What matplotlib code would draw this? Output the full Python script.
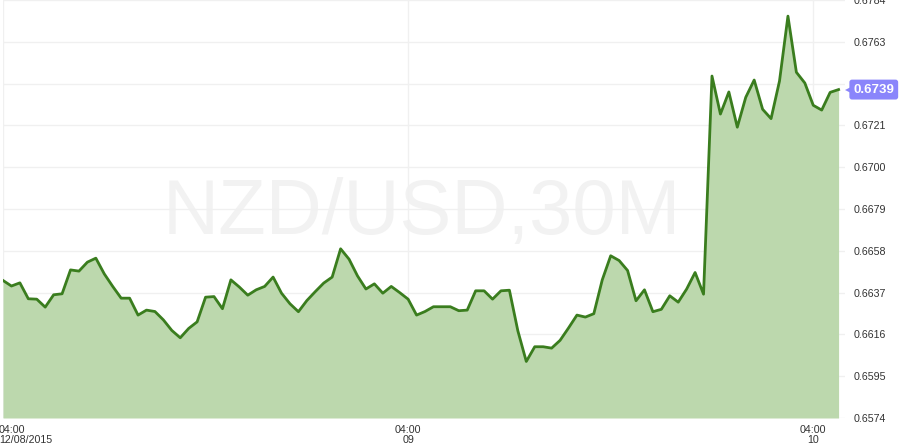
import matplotlib.pyplot as plt
import matplotlib.transforms as mtransforms
import numpy as np

# NZD/USD 30-minute closes, starting 04:00 12/08/2015
prices = [
    0.66431, 0.66403, 0.66419, 0.66339, 0.66337, 0.66297, 0.66359, 0.66364,
    0.66484, 0.66478, 0.66523, 0.66543, 0.66464, 0.66401, 0.66342, 0.66342,
    0.66257, 0.66282, 0.66275, 0.66233, 0.66180, 0.66143, 0.66190, 0.66223,
    0.66347, 0.66350, 0.66289, 0.66434, 0.66398, 0.66357, 0.66384, 0.66401,
    0.66448, 0.66367, 0.66314, 0.66274, 0.66330, 0.66375, 0.66418, 0.66448,
    0.66590, 0.66538, 0.66454, 0.66388, 0.66414, 0.66367, 0.66401, 0.66370,
    0.66337, 0.66257, 0.66275, 0.66299, 0.66299, 0.66299, 0.66279, 0.66282,
    0.66379, 0.66379, 0.66337, 0.66379, 0.66382, 0.66178, 0.66024, 0.66098,
    0.66098, 0.66091, 0.66130, 0.66192, 0.66257, 0.66247, 0.66264, 0.66434,
    0.66555, 0.66531, 0.66481, 0.66329, 0.66384, 0.66274, 0.66286, 0.66354,
    0.66322, 0.66388, 0.66471, 0.66362, 0.67458, 0.67267, 0.67378, 0.67201,
    0.67351, 0.67438, 0.67291, 0.67244, 0.67433, 0.67759, 0.67477, 0.67423,
    0.67311, 0.67287, 0.67376, 0.67390,
]
y_ticks = [0.6574, 0.6595, 0.6616, 0.6637, 0.6658, 0.6679, 0.6700,
           0.6721, 0.6742, 0.6763, 0.6784]
x_tick_idx = [0, 48, 96]
x_tick_labels = ["04:00\n12/08/2015", "04:00\n09", "04:00\n10"]
last_label = "0.6739"
title = "NZD/USD,30M"

plt.rcParams["font.family"] = ["Liberation Sans", "DejaVu Sans"]

x = np.arange(len(prices))
y = np.array(prices)

fig = plt.figure(figsize=(9, 4.48), dpi=100)
ax = fig.add_axes([3 / 900, 30 / 448, 842 / 900, 418 / 448])

ax.set_xlim(0, 99.76)
ax.set_ylim(y_ticks[0], y_ticks[-1])

# watermark
ax.text(0.497, 0.49, title, transform=ax.transAxes, ha="center", va="center",
        fontsize=56, color="#f2f2f2", zorder=0)

ax.fill_between(x, y_ticks[0], y, color="#bcd8ad", zorder=2, linewidth=0)
ax.plot(x, y, color="#3a7d1e", linewidth=2, zorder=3)

for s in ax.spines.values():
    s.set_visible(False)

ax.yaxis.tick_right()
ax.set_yticks(y_ticks)
ax.set_yticklabels([f"{v:.4f}" for v in y_ticks])
ax.set_xticks(x_tick_idx)
ax.set_xticklabels(x_tick_labels, linespacing=0.95)
ax.tick_params(axis="both", length=0, labelsize=7.7, colors="#333333")
ax.tick_params(axis="y", pad=6)
ax.tick_params(axis="x", pad=5)
first = ax.get_xticklabels()[0]
first.set_ha("left")
first.set_transform(first.get_transform()
                    + mtransforms.ScaledTranslation(-4 / 100, 0, fig.dpi_scale_trans))
ax.grid(True, color="#f0f0f0", linewidth=1, zorder=1)
ax.set_axisbelow(True)

# last price badge
ax.annotate(last_label, xy=(1.0, prices[-1]), xycoords=("axes fraction", "data"),
            xytext=(6, 0), textcoords="offset points", ha="left", va="center",
            fontsize=9.5, fontweight="bold", color="white",
            bbox=dict(boxstyle="round,pad=0.3,rounding_size=0.2", fc="#8a85fb", ec="none"),
            annotation_clip=False, zorder=5)
ax.plot([1.0], [prices[-1]], marker="<", markersize=5, color="#8a85fb",
        transform=ax.get_yaxis_transform()
        + mtransforms.ScaledTranslation(3 / 100, 0, fig.dpi_scale_trans),
        clip_on=False, zorder=5, markeredgewidth=0)

fig.savefig("out.png", dpi=100)
